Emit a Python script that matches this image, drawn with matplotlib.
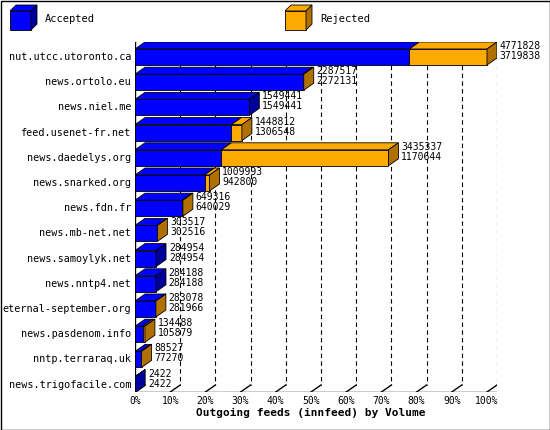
import matplotlib
matplotlib.use("Agg")
import matplotlib.pyplot as plt
from matplotlib.patches import Polygon, Rectangle

hosts = ["nut.utcc.utoronto.ca","news.ortolo.eu","news.niel.me","feed.usenet-fr.net",
         "news.daedelys.org","news.snarked.org","news.fdn.fr","news.mb-net.net",
         "news.samoylyk.net","news.nntp4.net","eternal-september.org","news.pasdenom.info",
         "nntp.terraraq.uk","news.trigofacile.com"]
offered = [4771828,2287517,1549441,1448812,3435337,1009993,649316,303517,284954,284188,283078,134488,88527,2422]
accepted = [3719838,2272131,1549441,1306548,1170644,942800,640029,302516,284954,284188,281966,105879,77270,2422]
ticks = [0,10,20,30,40,50,60,70,80,90,100]

W, H = 550, 430
fig = plt.figure(figsize=(W/100, H/100), dpi=100)
fig.patch.set_facecolor("white")
L, R, T, B = 135, 497, 42, 392
ax = fig.add_axes([L/W, 1-B/H, (R-L)/W, (B-T)/H])
ppu = 352/100.0
ax.set_xlim(0, (R-L)/ppu)
ax.set_ylim(B, T)
ax.axis("off")
dx = 10/ppu; dy = 7
mono = "DejaVu Sans Mono"
BLUE, DBLUE = "#0000ff", "#00009a"
OR, DOR = "#ffaa00", "#b07000"

ax.plot([0,0],[T,B],color="black",lw=1,zorder=1)
ax.plot([0,(R-L)/ppu],[B,B],color="black",lw=1,zorder=1)
for t in ticks:
    if t>0:
        ax.plot([t+dx,t+dx],[T,B-dy],color="black",lw=0.8,ls=(0,(4,3)),zorder=0)
    ax.plot([t,t+dx],[B,B-dy],color="black",lw=1,zorder=1)
    ax.text(t, B+4, f"{t}%", ha="center", va="top", fontsize=7, family=mono)

mx = max(offered)
def box(x0, x1, yc, face):
    h = 8
    ax.add_patch(Rectangle((x0, yc-h), x1-x0, 2*h, facecolor=face, edgecolor="black", lw=0.6, zorder=2))
    ax.add_patch(Polygon([(x0,yc-h),(x0+dx,yc-h-dy),(x1+dx,yc-h-dy),(x1,yc-h)],
                         closed=True, facecolor=face, edgecolor="black", lw=0.6, zorder=2))
def side(x1, yc, dark):
    h = 8
    ax.add_patch(Polygon([(x1,yc-h),(x1+dx,yc-h-dy),(x1+dx,yc+h-dy),(x1,yc+h)],
                         closed=True, facecolor=dark, edgecolor="black", lw=0.6, zorder=2))

for i,(hname,o,a) in enumerate(zip(hosts,offered,accepted)):
    yc = 57 + 25.2*i
    pa = a/mx*100; po = o/mx*100
    box(0, pa, yc, BLUE)
    if po > pa:
        box(pa, po, yc, OR); side(po, yc, DOR)
    else:
        side(pa, yc, DBLUE)
    ax.text(-1.1, yc, hname, ha="right", va="center", fontsize=7.3, family=mono)
    ax.text(po+dx+0.8, yc-6, f"{o}\n{a}", ha="left", va="center", fontsize=7, family=mono,
            linespacing=1.0, zorder=3)

ax.text(50, B+16, "Outgoing feeds (innfeed) by Volume", ha="center", va="top",
        fontsize=8, family=mono, fontweight="bold")

lax = fig.add_axes([0,0,1,1]); lax.set_xlim(0,W); lax.set_ylim(H,0); lax.axis("off")
for x, face, dark, lab in [(10,BLUE,DBLUE,"Accepted"),(285,OR,DOR,"Rejected")]:
    lax.add_patch(Rectangle((x,11),21,19,facecolor=face,edgecolor="black",lw=0.6))
    lax.add_patch(Polygon([(x,11),(x+6,5),(x+27,5),(x+21,11)],facecolor=face,edgecolor="black",lw=0.6))
    lax.add_patch(Polygon([(x+21,11),(x+27,5),(x+27,24),(x+21,30)],facecolor=dark,edgecolor="black",lw=0.6))
    lax.text(x+35,19,lab,va="center",fontsize=7.5,family=mono)
lax.add_patch(Rectangle((0.5,0.5),W-1,H-1,fill=False,edgecolor="black",lw=1))
fig.savefig("out.png", dpi=100)
